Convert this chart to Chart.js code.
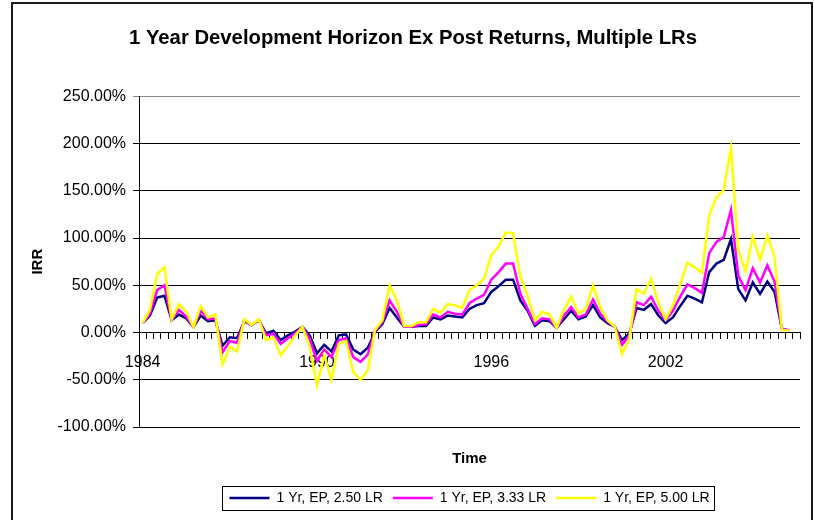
<!DOCTYPE html>
<html><head><meta charset="utf-8">
<script src="https://cdn.jsdelivr.net/npm/chart.js@4.4.1/dist/chart.umd.min.js"></script>
<style>html,body{margin:0;padding:0;background:#fff;}#wrap{position:relative;width:814px;height:520px;}</style>
</head><body><div id="wrap"><canvas id="c" width="814" height="520"></canvas></div>
<script>
// ---- data ----
const chartTitle = '1 Year Development Horizon Ex Post Returns, Multiple LRs';
const yearLabels = ['1984', '1990', '1996', '2002'];
const labelEvery = 24;          // one year label every 24 quarters
const categoryCount = 91;       // quarterly categories on the axis
const seriesNames = ['1 Yr, EP, 2.50 LR', '1 Yr, EP, 3.33 LR', '1 Yr, EP, 5.00 LR'];
const lr250 = [10,18,37,39,13,19,15,6,18,12,
  13,-14,-5,-6,12,8,13,-1,2,-8,
  -3,1,6,-3,-22,-13,-20,-3,-2,-18,
  -23,-16,1,9,26,16,6,6,7,7,
  16,14,18,17,16,25,29,31,43,49,
  56,56,34,23,7,13,12,5,14,23,
  14,17,29,16,10,6,-8,-1,26,24,
  30,18,10,16,28,39,36,32,64,73,
  77,99,46,34,53,41,54,43,4,2];
const lr333 = [10,20,45,50,13,24,17,6,23,14,
  15,-21,-9,-11,13,8,13,-3,-1,-12,
  -6,-1,6,-7,-30,-18,-26,-8,-6,-26,
  -31,-23,2,11,34,22,6,6,8,9,
  19,16,22,20,19,31,36,40,56,64,
  73,73,41,25,9,15,14,5,18,27,
  16,19,35,20,12,6,-13,-3,32,29,
  38,23,13,23,38,51,47,42,84,96,
  101,130,60,45,68,53,71,54,4,2.5];
const lr500 = [10,24,62,69,14,30,22,6,28,16,
  19,-34,-15,-20,14,8,14,-8,-5,-24,
  -14,-3,6,-15,-56,-24,-50,-12,-9,-42,
  -50,-40,3,13,50,34,7,7,11,11,
  25,21,30,29,26,45,50,57,82,91,
  106,105,59,39,13,22,19,5,24,38,
  20,25,50,27,13,6,-23,-6,46,41,
  57,31,14,29,51,74,69,63,124,143,
  151,195,87,65,101,77,103,80,3,2];
const yMin = -100, yMax = 250, yStep = 50;

// ---- chart ----
const FONT = "'Liberation Sans', Arial, sans-serif";
const labels = Array.from({length: categoryCount}, (_, i) =>
  i % labelEvery === 0 && yearLabels[i / labelEvery] ? yearLabels[i / labelEvery] : '');

const framePlugin = {
  id: 'frame',
  beforeDraw(chart) {
    const c = chart.ctx; c.save(); c.fillStyle = '#fff'; c.fillRect(0, 0, chart.width, chart.height); c.restore();
  },
  afterDraw(chart) {
    const c = chart.ctx; c.save();
    c.strokeStyle = '#1a1a1a'; c.lineWidth = 2; c.strokeRect(12, 3, 800, 600);
    const hb = chart.legend && chart.legend.legendHitBoxes;
    if (hb && hb.length) {
      const l = Math.min(...hb.map(h => h.left)) - 7;
      const r = Math.max(...hb.map(h => h.left + h.width)) + 5;
      const t = Math.min(...hb.map(h => h.top)) - 5;
      const b = Math.max(...hb.map(h => h.top + h.height)) + 5;
      c.lineWidth = 1; c.strokeStyle = '#000';
      c.strokeRect(Math.round(l) + 0.5, Math.round(t) + 0.5, Math.round(r - l), Math.round(b - t));
    }
    c.restore();
  }
};

const mk = (i, data, color, order) => ({
  label: seriesNames[i], data, borderColor: color, backgroundColor: color,
  borderWidth: 2.5, pointRadius: 0, tension: 0, order, xAxisID: 'x', yAxisID: 'y'
});

new Chart(document.getElementById('c'), {
  type: 'line',
  data: {
    labels,
    datasets: [mk(0, lr250, '#000080', 3), mk(1, lr333, '#FF00FF', 2), mk(2, lr500, '#FFFF00', 1)]
  },
  options: {
    responsive: false, animation: false, devicePixelRatio: 1,
    layout: {padding: {left: 26, right: 14, top: 0, bottom: 5}},
    plugins: {
      title: {display: true, text: chartTitle, color: '#000',
        font: {family: FONT, size: 20.3, weight: 'bold'}, padding: {top: 26.5, bottom: 45.5}},
      legend: {position: 'bottom', fullSize: false,
        labels: {usePointStyle: true, pointStyle: 'line', pointStyleWidth: 40, color: '#000',
          font: {family: FONT, size: 14}, padding: 10,
          sort: (a, b) => a.datasetIndex - b.datasetIndex}},
      tooltip: {enabled: false}
    },
    scales: {
      x: {type: 'category', position: {y: 0}, offset: true,
        grid: {display: true, drawOnChartArea: false, drawTicks: true, tickLength: 6, offset: true, color: '#000', lineWidth: 1},
        border: {display: true, color: '#000', width: 1},
        ticks: {autoSkip: false, maxRotation: 0, minRotation: 0, padding: 14, color: '#000',
          font: {family: FONT, size: 16}}},
      xt: {type: 'category', position: 'bottom', display: true,
        grid: {display: false, drawTicks: false}, border: {display: false},
        ticks: {display: false},
        title: {display: true, text: 'Time', color: '#000', font: {family: FONT, size: 15, weight: 'bold'},
          padding: {top: 23, bottom: 13}}},
      y: {min: yMin, max: yMax,
        ticks: {stepSize: yStep, padding: 7, color: '#000', font: {family: FONT, size: 16},
          callback: v => Number(v).toFixed(2) + '%'},
        grid: {color: c => (c.tick && c.tick.value === yMax) ? '#888' : '#000', tickLength: 6, lineWidth: 1},
        border: {display: true, color: '#000', width: 1},
        title: {display: true, text: 'IRR', color: '#000', font: {family: FONT, size: 15, weight: 'bold'},
          padding: {top: 3, bottom: 0}},
        afterFit: s => { s.width = 113; }}
    }
  },
  plugins: [framePlugin]
});
</script>
</body></html>
